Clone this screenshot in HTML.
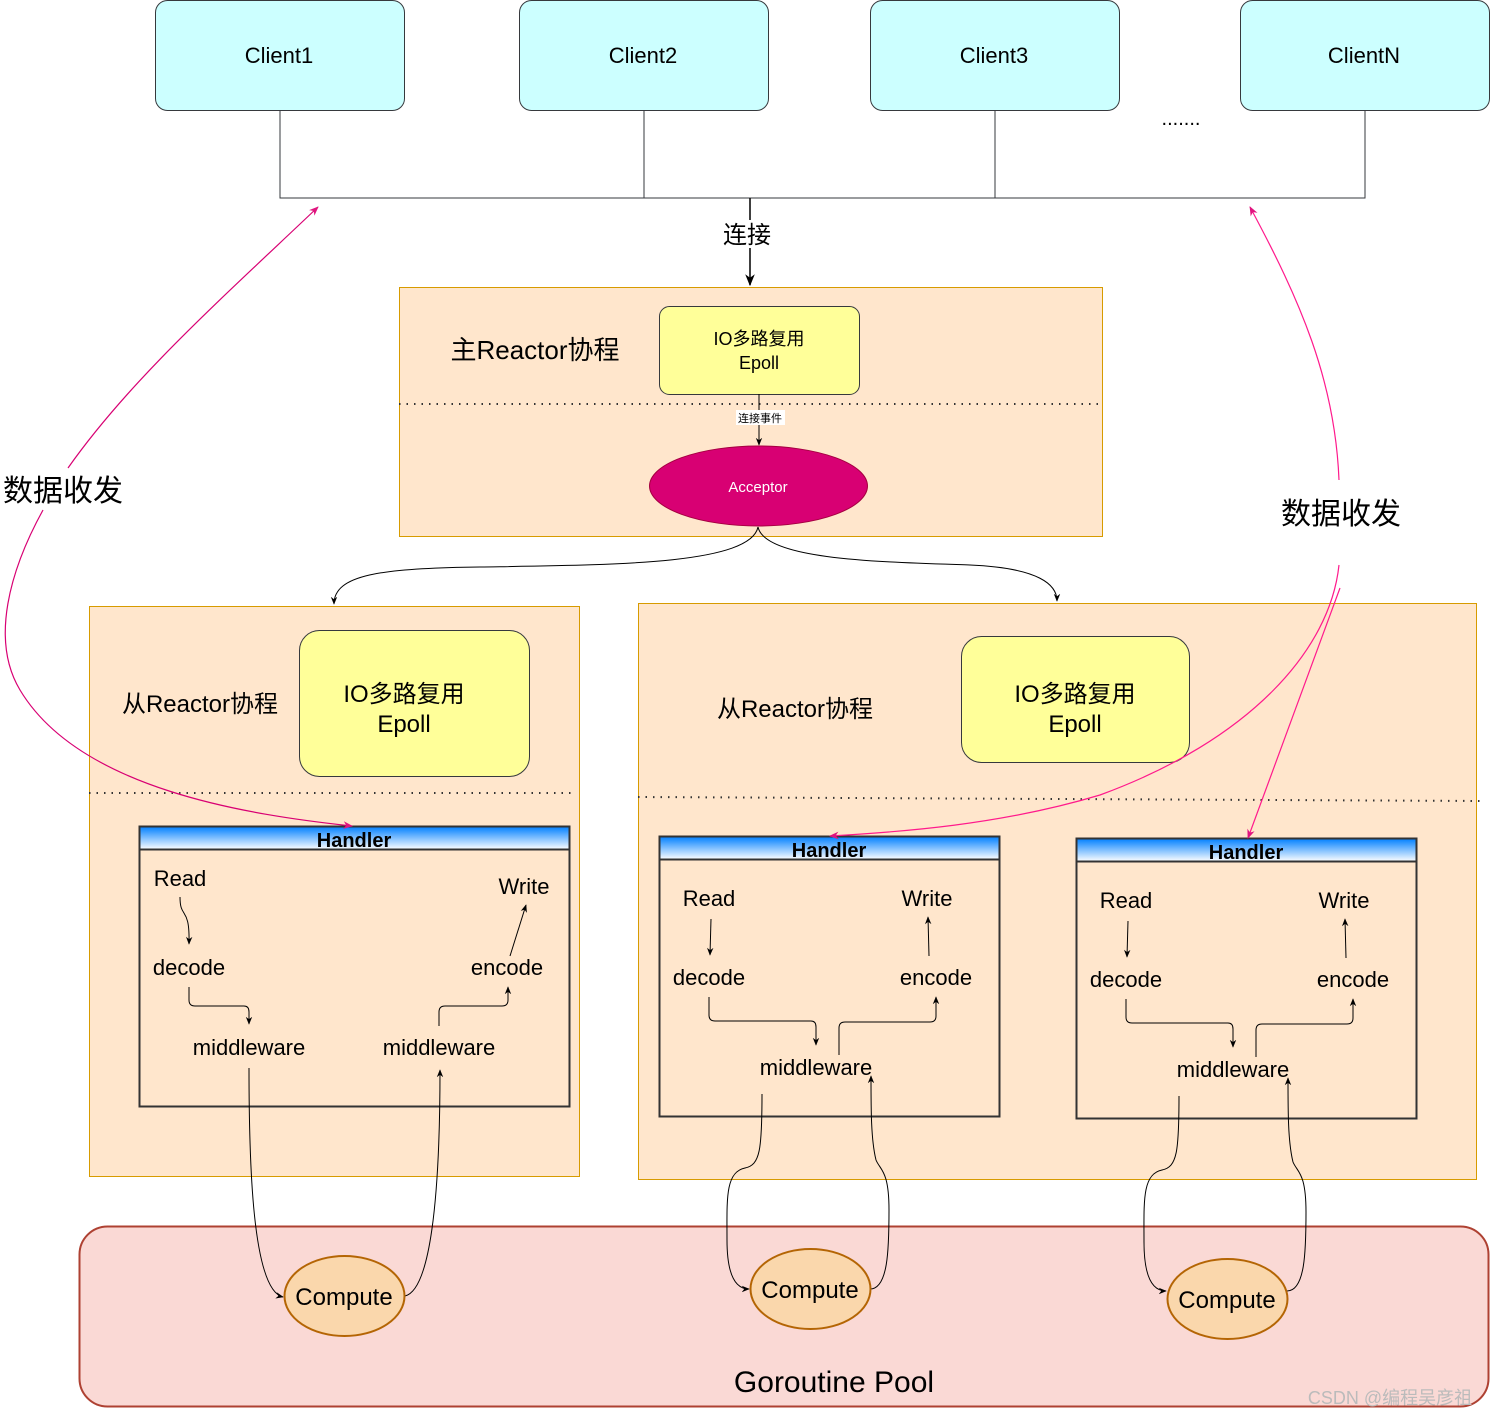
<!DOCTYPE html>
<html><head><meta charset="utf-8"><style>body{margin:0;background:#fff}svg{display:block}text{font-family:"Liberation Sans","Noto Sans CJK SC",sans-serif}</style></head><body>
<svg width="1491" height="1417" viewBox="0 0 1491 1417" xmlns="http://www.w3.org/2000/svg">
<defs>
<marker id="a" viewBox="0 0 10 10" refX="9" refY="5" markerWidth="8" markerHeight="8" orient="auto"><path d="M0,1 L10,5 L0,9 L3,5 z" fill="#000"/></marker>
<marker id="p" viewBox="0 0 10 10" refX="9" refY="5" markerWidth="8" markerHeight="8" orient="auto"><path d="M0,1 L10,5 L0,9 L3,5 z" fill="#e0157f"/></marker>
<linearGradient id="g" x1="0" y1="0" x2="0" y2="1"><stop offset="0" stop-color="#007fff"/><stop offset="1" stop-color="#fff"/></linearGradient>
</defs>
<g fill="#ccffff" stroke="#36393d">
<rect x="155.5" y="0.5" width="249" height="110" rx="12"/>
<rect x="519.5" y="0.5" width="249" height="110" rx="12"/>
<rect x="870.5" y="0.5" width="249" height="110" rx="12"/>
<rect x="1240.5" y="0.5" width="249" height="110" rx="12"/>
</g>
<g font-size="22" text-anchor="middle"><text x="279" y="63">Client1</text><text x="643" y="63">Client2</text><text x="994" y="63">Client3</text><text x="1364" y="63">ClientN</text></g>
<text x="1181" y="125" font-size="20" text-anchor="middle">.......</text>
<g stroke="#36393d" fill="none"><path d="M280,110V198H1365V110M644,110V198M995,110V198"/></g>
<path d="M750,198V285" stroke="#000" stroke-width="1.5" marker-end="url(#a)"/>
<rect x="720" y="220" width="55" height="28" fill="#fff"/>
<text x="747" y="243" font-size="24" text-anchor="middle">连接</text>
<rect x="399.5" y="287.5" width="703" height="249" fill="#ffe6cc" stroke="#d79b00"/>
<text x="535" y="359" font-size="26" text-anchor="middle">主Reactor协程</text>
<rect x="659.5" y="306.5" width="200" height="88" rx="10" fill="#ffff99" stroke="#36393d"/>
<text x="759" y="345" font-size="18" text-anchor="middle">IO多路复用</text><text x="759" y="369" font-size="18" text-anchor="middle">Epoll</text>
<line x1="399" y1="404" x2="1102" y2="404" stroke="#333" stroke-width="2" stroke-dasharray="1.5,6"/>
<path d="M759,394V445" stroke="#000" marker-end="url(#a)"/>
<rect x="736" y="410" width="49" height="15" fill="#fff"/>
<text x="760" y="422" font-size="11" text-anchor="middle">连接事件</text>
<ellipse cx="758.5" cy="486" rx="109" ry="40" fill="#d80073" stroke="#a50040"/>
<text x="758" y="492" font-size="15" fill="#fff" text-anchor="middle">Acceptor</text>
<g fill="none" stroke="#000">
<path d="M758,527C750,565 610,565 480,567C380,568 334,575 334,604" marker-end="url(#a)"/>
<path d="M758,527C765,560 880,562 970,565C1040,568 1057,585 1057,601" marker-end="url(#a)"/>
</g>
<rect x="89.5" y="606.5" width="490" height="570" fill="#ffe6cc" stroke="#d79b00"/>
<text x="200" y="712" font-size="24" text-anchor="middle">从Reactor协程</text>
<rect x="299.5" y="630.5" width="230" height="146" rx="20" fill="#ffff99" stroke="#36393d"/>
<text x="404" y="702" font-size="24" text-anchor="middle">IO多路复用</text><text x="404" y="732" font-size="24" text-anchor="middle">Epoll</text>
<line x1="89" y1="793" x2="572" y2="793" stroke="#333" stroke-width="2" stroke-dasharray="1.5,6"/>
<rect x="638.5" y="603.5" width="838" height="576" fill="#ffe6cc" stroke="#d79b00"/>
<text x="795" y="717" font-size="24" text-anchor="middle">从Reactor协程</text>
<rect x="961.5" y="636.5" width="228" height="126" rx="20" fill="#ffff99" stroke="#36393d"/>
<text x="1075" y="702" font-size="24" text-anchor="middle">IO多路复用</text><text x="1075" y="732" font-size="24" text-anchor="middle">Epoll</text>
<line x1="638" y1="797" x2="1482" y2="801" stroke="#333" stroke-width="2" stroke-dasharray="1.5,6"/>
<rect x="79.5" y="1226.5" width="1409" height="180" rx="28" fill="#fad9d5" stroke="#ae4132" stroke-width="2"/>
<text x="834" y="1392" font-size="30" text-anchor="middle">Goroutine Pool</text>
<text x="1390" y="1404" font-size="18" fill="#bbb" text-anchor="middle">CSDN @编程吴彦祖</text>
<!-- Handler 1 -->
<rect x="139.5" y="826.5" width="430" height="280" fill="#ffe6cc" stroke="#333" stroke-width="2"/>
<rect x="139.5" y="826.5" width="430" height="23" fill="url(#g)" stroke="#333" stroke-width="2"/>
<text x="354" y="847" font-size="20" font-weight="bold" text-anchor="middle">Handler</text>
<g font-size="22" text-anchor="middle"><text x="180" y="886">Read</text><text x="524" y="894">Write</text><text x="189" y="975">decode</text><text x="507" y="975">encode</text><text x="249" y="1055">middleware</text><text x="439" y="1055">middleware</text></g>
<g fill="none" stroke="#000">
<path d="M180,897C180,920 190,905 189,944" marker-end="url(#a)"/>
<path d="M510,956L526,905" marker-end="url(#a)"/>
<path d="M189,987V1000Q189,1006 195,1006H244Q249,1006 249,1012V1024" marker-end="url(#a)"/>
<path d="M439,1026V1012Q439,1006 445,1006H502Q508,1006 508,1000V987" marker-end="url(#a)"/>
<path d="M249,1068C249,1160 252,1290 283,1297" marker-end="url(#a)"/>
<path d="M405,1296C430,1290 440,1200 440,1070" marker-end="url(#a)"/>
</g>
<!-- Handler 2 & 3 -->
<g id="h2">
<rect x="659.5" y="836.5" width="340" height="280" fill="#ffe6cc" stroke="#333" stroke-width="2"/>
<rect x="659.5" y="836.5" width="340" height="23" fill="url(#g)" stroke="#333" stroke-width="2"/>
<text x="829" y="857" font-size="20" font-weight="bold" text-anchor="middle">Handler</text>
<g font-size="22" text-anchor="middle"><text x="709" y="906">Read</text><text x="927" y="906">Write</text><text x="709" y="985">decode</text><text x="936" y="985">encode</text><text x="816" y="1075">middleware</text></g>
<g fill="none" stroke="#000">
<path d="M711,919L710,955" marker-end="url(#a)"/>
<path d="M929,956L928,917" marker-end="url(#a)"/>
<path d="M709,997V1015Q709,1021 715,1021H811Q816,1021 816,1027V1045" marker-end="url(#a)"/>
<path d="M839,1055V1028Q839,1022 845,1022H930Q936,1022 936,1016V997" marker-end="url(#a)"/>
<path d="M762,1094C762,1150 760,1165 745,1168C725,1172 727,1200 727,1240C727,1280 738,1289 749,1289" marker-end="url(#a)"/>
<path d="M870,1289C888,1289 889,1250 889,1210C889,1170 880,1170 876,1160C871,1140 871,1110 871,1076" marker-end="url(#a)"/>
</g>
</g>
<use href="#h2" transform="translate(417,2)"/>
<ellipse cx="344.5" cy="1296" rx="60" ry="40" fill="#fad7ac" stroke="#b46504" stroke-width="2"/>
<ellipse cx="810.5" cy="1289" rx="60" ry="40" fill="#fad7ac" stroke="#b46504" stroke-width="2"/>
<ellipse cx="1227.5" cy="1299" rx="60" ry="40" fill="#fad7ac" stroke="#b46504" stroke-width="2"/>
<g font-size="24" text-anchor="middle"><text x="344" y="1305">Compute</text><text x="810" y="1298">Compute</text><text x="1227" y="1308">Compute</text></g>
<!-- pink -->
<g fill="none" stroke-width="1.2">
<path d="M68,468C130,380 220,300 318,207" stroke="#d80073" marker-end="url(#p)"/>
<path d="M43,510C10,570 -10,640 20,690C80,790 250,815 352,826" stroke="#d80073" marker-end="url(#p)"/>
<path d="M1339,480C1335,380 1300,300 1250,207" stroke="#ff1a8c" marker-end="url(#p)"/>
<path d="M1339,565C1330,650 1250,740 1100,795C1000,825 900,832 830,836" stroke="#ff1a8c" marker-end="url(#p)"/>
<path d="M1340,588L1248,838" stroke="#ff1a8c" marker-end="url(#p)"/>
</g>
<text x="63" y="501" font-size="30" text-anchor="middle">数据收发</text>
<text x="1341" y="524" font-size="30" text-anchor="middle">数据收发</text>
</svg>
</body></html>
